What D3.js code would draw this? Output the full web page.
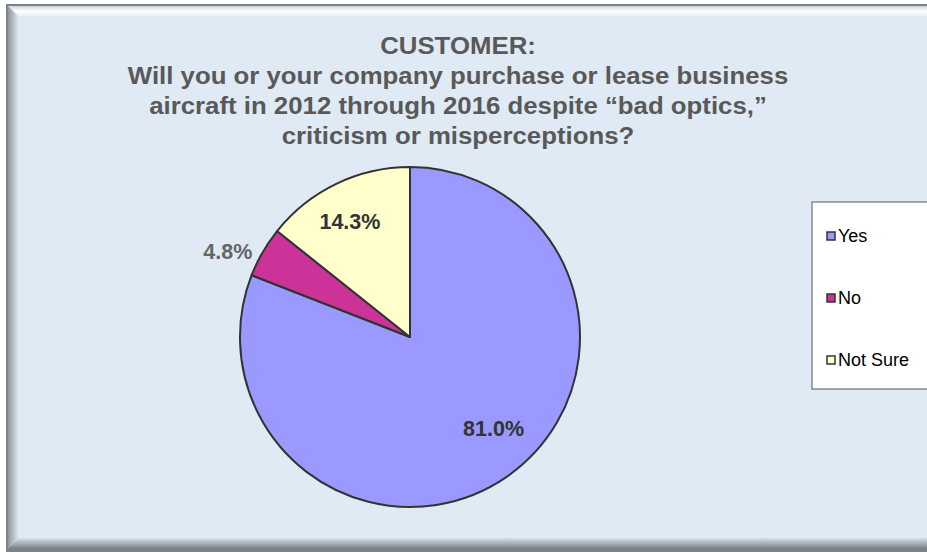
<!DOCTYPE html>
<html>
<head>
<meta charset="utf-8">
<script src="https://cdn.jsdelivr.net/npm/d3@7"></script>
<style>
  html, body { margin: 0; padding: 0; background: #ffffff; }
  svg { display: block; }
</style>
</head>
<body>
<svg id="chart" width="927" height="552"></svg>
<script>
// Survey responses (percent of respondents)
const categories = ["Yes", "No", "Not Sure"];
const shares = [81.0, 4.8, 14.3];
const sliceColors = ["#9999FF", "#CC3399", "#FFFFCC"];
const titleLines = [
  "CUSTOMER:",
  "Will you or your company purchase or lease business",
  "aircraft in 2012 through 2016 despite \u201cbad optics,\u201d",
  "criticism or misperceptions?"
];

const svg = d3.select("#chart");
const W = 927, H = 552;
const FONT = "Liberation Sans, Arial, sans-serif";

// Bevelled chart frame
const defs = svg.append("defs");
const gTop = defs.append("linearGradient").attr("id", "bevTop").attr("x1", 0).attr("y1", 0).attr("x2", 0).attr("y2", 1);
gTop.append("stop").attr("offset", 0).attr("stop-color", "#c9d3dc");
gTop.append("stop").attr("offset", 0.5).attr("stop-color", "#ffffff");
gTop.append("stop").attr("offset", 1).attr("stop-color", "#e6eff7");
const gLeft = defs.append("linearGradient").attr("id", "bevLeft").attr("x1", 0).attr("y1", 0).attr("x2", 1).attr("y2", 0);
gLeft.append("stop").attr("offset", 0).attr("stop-color", "#8e959c");
gLeft.append("stop").attr("offset", 1).attr("stop-color", "#d9e4ee");
const gBot = defs.append("linearGradient").attr("id", "bevBot").attr("x1", 0).attr("y1", 0).attr("x2", 0).attr("y2", 1);
gBot.append("stop").attr("offset", 0).attr("stop-color", "#d6e1ec");
gBot.append("stop").attr("offset", 1).attr("stop-color", "#80868c");

const fx = 6, fy = 4, fb = 10;
svg.append("rect").attr("x", fx).attr("y", fy).attr("width", W + 20).attr("height", H + 20)
  .attr("fill", "#7d8287");
svg.append("rect").attr("x", fx + 2).attr("y", fy + 2).attr("width", W + 20).attr("height", H - fy - 6)
  .attr("fill", "#dfeaf5");
svg.append("path")
  .attr("d", `M${fx + 2},${fy + 2} L${W},${fy + 2} L${W},${fy + 2 + fb} L${fx + 2 + fb},${fy + 2 + fb} Z`)
  .attr("fill", "url(#bevTop)");
svg.append("path")
  .attr("d", `M${fx + 2},${fy + 2} L${fx + 2 + fb},${fy + 2 + fb} L${fx + 2 + fb},${H - 4 - fb} L${fx + 2},${H - 4} Z`)
  .attr("fill", "url(#bevLeft)");
svg.append("path")
  .attr("d", `M${fx + 2},${H - 4} L${fx + 2 + fb},${H - 4 - fb} L${W},${H - 4 - fb} L${W},${H - 4} Z`)
  .attr("fill", "url(#bevBot)");

// Title
svg.append("g")
  .selectAll("text")
  .data(titleLines)
  .join("text")
  .attr("transform", (d, i) => `translate(458,${54 + i * 30}) scale(1.075,1)`)
  .attr("text-anchor", "middle")
  .attr("font-family", FONT)
  .attr("font-weight", "bold")
  .attr("font-size", 24)
  .attr("fill", "#595959")
  .text(d => d);

// Pie
const cx = 410, cy = 337, r = 170;
const pie = d3.pie().sort(null).value(d => d.v);
const data = categories.map((c, i) => ({ c, v: shares[i], color: sliceColors[i] }));
const arcs = pie(data);
const arc = d3.arc().innerRadius(0).outerRadius(r);
const g = svg.append("g").attr("transform", `translate(${cx},${cy})`);
g.selectAll("path")
  .data(arcs)
  .join("path")
  .attr("d", arc)
  .attr("fill", d => d.data.color)
  .attr("stroke", "#333333")
  .attr("stroke-width", 2)
  .attr("stroke-linejoin", "round");

// Slice labels: radial distance (fraction of r) and angular nudge (degrees)
const labelPos = [
  { rad: 0.73, turn: -8, out: false },
  { rad: 1.055, turn: -1.5, out: true },
  { rad: 0.765, turn: -1.8, out: false }
];
g.selectAll("text.lbl")
  .data(arcs)
  .join("text")
  .attr("class", "lbl")
  .attr("transform", (d, i) => {
    const a = (d.startAngle + d.endAngle) / 2 + labelPos[i].turn * Math.PI / 180;
    const rr = labelPos[i].rad * r;
    return `translate(${Math.sin(a) * rr},${-Math.cos(a) * rr})`;
  })
  .attr("text-anchor", (d, i) => labelPos[i].out ? "end" : "middle")
  .attr("dy", "0.35em")
  .attr("font-family", FONT)
  .attr("font-weight", "bold")
  .attr("font-size", 21.5)
  .attr("fill", (d, i) => labelPos[i].out ? "#666666" : "#333333")
  .text(d => d.data.v.toFixed(1) + "%");

// Legend
const lg = svg.append("g").attr("transform", "translate(812,202)");
lg.append("rect").attr("width", 130).attr("height", 187)
  .attr("fill", "#ffffff").attr("stroke", "#555555").attr("stroke-width", 1);
const item = lg.selectAll("g.item")
  .data(data)
  .join("g")
  .attr("class", "item")
  .attr("transform", (d, i) => `translate(0,${34 + i * 62})`);
item.append("rect")
  .attr("x", 15).attr("y", -4).attr("width", 8).attr("height", 8)
  .attr("fill", d => d.color).attr("stroke", "#333333").attr("stroke-width", 1.5);
item.append("text")
  .attr("x", 26).attr("dy", "0.36em")
  .attr("font-family", FONT)
  .attr("font-size", 18)
  .attr("fill", "#000000")
  .text(d => d.c);
</script>
</body>
</html>
